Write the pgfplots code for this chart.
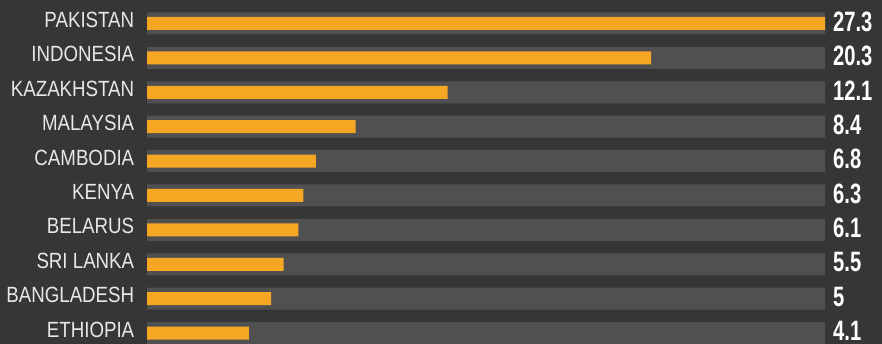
\documentclass[border=0pt]{standalone}
\usepackage{pgfplots}
\pgfplotsset{compat=1.18}
\usepackage{fontspec}
\setmainfont{Liberation Sans}
\newfontfamily\labfont[FakeStretch=0.85]{Liberation Sans}
\newfontfamily\valfont[FakeStretch=0.72]{Liberation Sans}
\definecolor{bg}{HTML}{363636}
\definecolor{track}{HTML}{505050}
\definecolor{bar}{HTML}{F5A623}
\definecolor{lab}{HTML}{E8E8E8}
\begin{document}
\begin{tikzpicture}
\useasboundingbox (0,0) rectangle (882pt,344pt);
\fill[bg] (0,0) rectangle (882pt,344pt);
\begin{axis}[
  at={(147pt,0pt)}, anchor=south west,
  scale only axis, width=678pt, height=344pt,
  xmin=0, xmax=27.3, ymin=-0.317, ymax=9.683,
  clip=false,
  axis line style={draw=none},
  major tick style={draw=none},
  xtick=\empty,
  ytick={0,...,9},
  yticklabels={ETHIOPIA,BANGLADESH,SRI LANKA,BELARUS,KENYA,CAMBODIA,MALAYSIA,KAZAKHSTAN,INDONESIA,PAKISTAN},
  yticklabel style={font=\labfont\fontsize{22}{22}\selectfont, text=lab, anchor=east, xshift=-5pt, yshift=3.5pt},
  xbar,
]
\addplot[fill=track, draw=none, bar width=22pt, bar shift=0pt,
  point meta=explicit symbolic,
  nodes near coords,
  every node near coord/.append style={anchor=west, xshift=7pt, yshift=1.8pt, inner sep=1pt, font=\valfont\bfseries\fontsize{28}{28}\selectfont, text=white}]
  coordinates {
  (27.3,9) [27.3]
  (27.3,8) [20.3]
  (27.3,7) [12.1]
  (27.3,6) [8.4]
  (27.3,5) [6.8]
  (27.3,4) [6.3]
  (27.3,3) [6.1]
  (27.3,2) [5.5]
  (27.3,1) [5]
  (27.3,0) [4.1]
  };
\addplot[fill=bar, draw=none, bar width=13pt, bar shift=0pt]
  coordinates {
  (27.3,9) (20.3,8) (12.1,7) (8.4,6) (6.8,5) (6.3,4) (6.1,3) (5.5,2) (5,1) (4.1,0)
  };
\end{axis}
\end{tikzpicture}
\end{document}
